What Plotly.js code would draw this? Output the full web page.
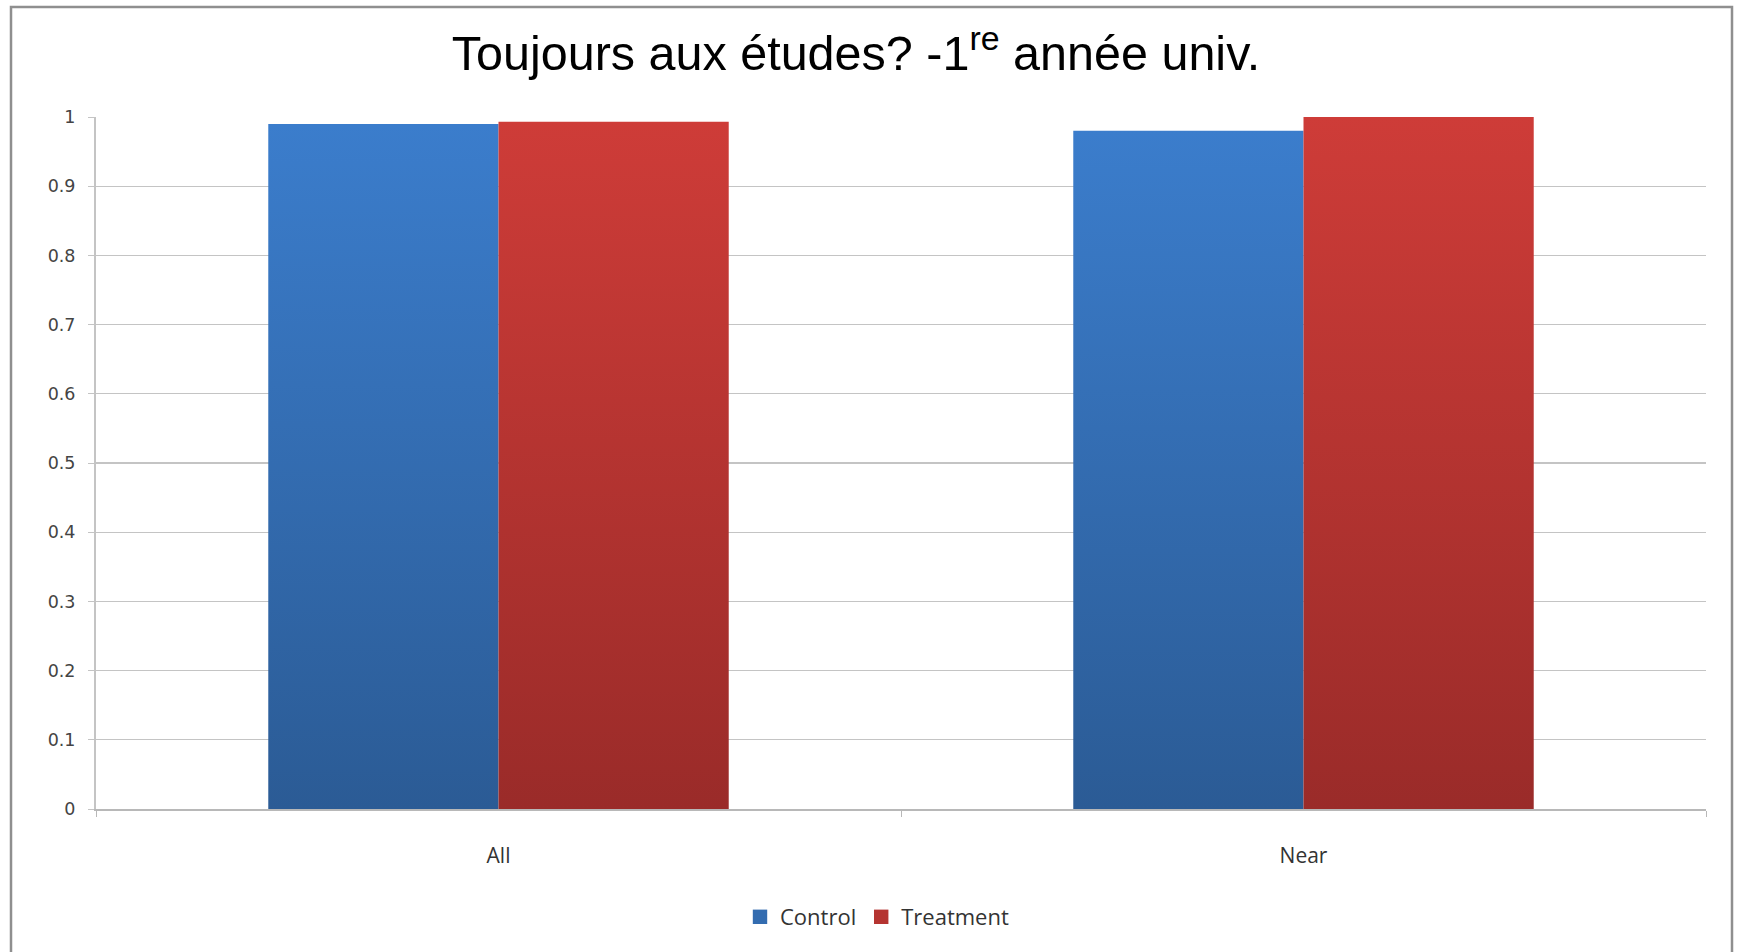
<!DOCTYPE html>
<html>
<head>
<meta charset="utf-8">
<script src="https://cdn.plot.ly/plotly-3.0.1.min.js"></script>
<style>
html,body{margin:0;padding:0;background:#fff;}
#chart{width:1740px;height:952px;}
</style>
</head>
<body>
<div id="chart"></div>
<script>
const categories = ["All", "Near"];
const controlValues = [0.99, 0.98];
const treatmentValues = [0.993, 1.0];
const yTickValues = [0, 0.1, 0.2, 0.3, 0.4, 0.5, 0.6, 0.7, 0.8, 0.9, 1];
const yTickLabels = ["0", "0.1", "0.2", "0.3", "0.4", "0.5", "0.6", "0.7", "0.8", "0.9", "1"];

const traces = [
  {type: "bar", name: "Control", x: categories, y: controlValues,
   marker: {color: "#336cb0", line: {width: 0}}, hoverinfo: "skip"},
  {type: "bar", name: "Treatment", x: categories, y: treatmentValues,
   marker: {color: "#b53431", line: {width: 0}}, hoverinfo: "skip"}
];

const layout = {
  width: 1740, height: 952,
  paper_bgcolor: "#ffffff", plot_bgcolor: "#ffffff",
  margin: {l: 96, r: 34, t: 117, b: 143},
  barmode: "group", bargap: 0.428, bargroupgap: 0,
  title: {
    text: "Toujours aux études? -1<sup>re</sup> année univ.",
    font: {family: "Liberation Sans, Arial, sans-serif", size: 48.5, color: "#000"},
    x: 856/1740, xref: "container", xanchor: "center",
    y: 1 - 53/952, yref: "container", yanchor: "middle"
  },
  xaxis: {
    type: "category", showgrid: false, zeroline: false,
    showline: true, linecolor: "#b8b8b8", linewidth: 1.5,
    ticks: "outside", tickson: "boundaries", ticklen: 6, tickcolor: "#b8b8b8", tickwidth: 1,
    ticklabelstandoff: 27,
    tickfont: {family: "Liberation Sans Narrow, Open Sans, sans-serif", size: 21, color: "#333"}
  },
  yaxis: {
    range: [0, 1], tickvals: yTickValues, ticktext: yTickLabels,
    showgrid: true, gridcolor: "#c4c4c4", gridwidth: 1.3,
    zeroline: false, showline: true, linecolor: "#c4c4c4", linewidth: 2,
    ticks: "outside", ticklen: 6, tickcolor: "#c4c4c4",
    ticklabelstandoff: 9,
    tickfont: {family: "DejaVu Sans, Verdana, sans-serif", size: 17.5, color: "#444"}
  },
  showlegend: true,
  legend: {
    orientation: "h", xref: "container", yref: "container",
    x: 877/1740, xanchor: "center", y: 1 - 917/952, yanchor: "middle",
    font: {family: "Liberation Sans Narrow, Open Sans, sans-serif", size: 22, color: "#333"},
    itemwidth: 30, traceorder: "normal"
  },
  shapes: [{
    type: "rect", xref: "paper", yref: "paper",
    x0: (11 - 96) / 1610, x1: (1732 - 96) / 1610,
    y0: (809 - 975) / 692, y1: (809 - 7) / 692,
    line: {color: "#8f8f8f", width: 2.5}, fillcolor: "rgba(0,0,0,0)", layer: "below"
  }]
};

Plotly.newPlot("chart", traces, layout, {displayModeBar: false, staticPlot: true}).then(function (gd) {
  const svg = gd.querySelector(".main-svg");
  let defs = svg.querySelector("defs");
  if (!defs) { defs = document.createElementNS("http://www.w3.org/2000/svg", "defs"); svg.insertBefore(defs, svg.firstChild); }
  const grads = [["gradCtrl", "#3b7dcc", "#2b5b95"], ["gradTreat", "#ce3c38", "#9a2b29"]];
  grads.forEach(function (g) {
    const lg = document.createElementNS("http://www.w3.org/2000/svg", "linearGradient");
    lg.setAttribute("id", g[0]);
    lg.setAttribute("x1", "0"); lg.setAttribute("y1", "0");
    lg.setAttribute("x2", "0"); lg.setAttribute("y2", "1");
    [["0", g[1]], ["1", g[2]]].forEach(function (s) {
      const st = document.createElementNS("http://www.w3.org/2000/svg", "stop");
      st.setAttribute("offset", s[0]); st.setAttribute("stop-color", s[1]);
      lg.appendChild(st);
    });
    defs.appendChild(lg);
  });
  const traceGroups = gd.querySelectorAll(".barlayer .trace");
  traceGroups.forEach(function (tg, i) {
    tg.querySelectorAll(".point path").forEach(function (p) {
      p.style.fill = "url(#" + grads[i][0] + ")";
    });
  });
  gd.querySelectorAll(".legend .legendpoints path").forEach(function (p) {
    p.setAttribute("transform", (p.getAttribute("transform") || "") + " scale(1.2)");
  });
});
</script>
</body>
</html>
